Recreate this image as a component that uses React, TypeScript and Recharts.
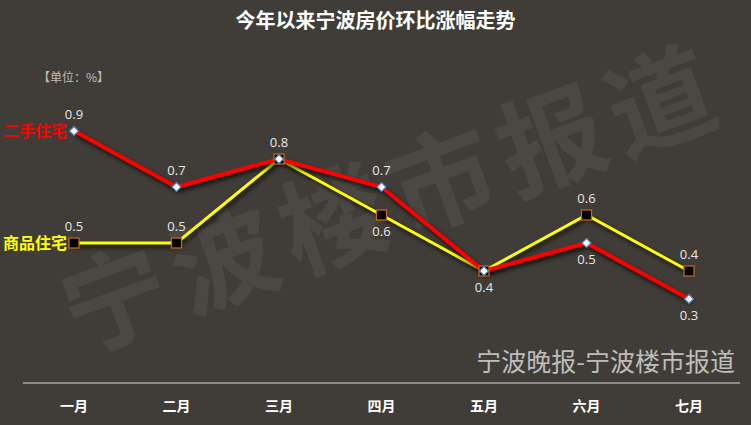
import React from 'react';
import { LineChart, Line, XAxis, YAxis, LabelList } from 'recharts';

const months = ['一月', '二月', '三月', '四月', '五月', '六月', '七月'];
const secondHand = [0.9, 0.7, 0.8, 0.7, 0.4, 0.5, 0.3];
const newHomes = [0.5, 0.5, 0.8, 0.6, 0.4, 0.6, 0.4];

// where each value label goes (null = hidden, shared with the other line)
const secondHandLabelPos = ['top', 'top', 'top', 'top', null, 'bottom', 'bottom'];
const newHomesLabelPos = ['top', 'top', null, 'bottom', 'bottom', 'top', 'top'];

const data = months.map((m, i) => ({ month: m, sh: secondHand[i], nh: newHomes[i] }));

const BG = '#403d38';
const NUM_FONT = '"Open Sans", "DejaVu Sans", sans-serif';
const CJK_FONT = '"Noto Sans CJK SC", sans-serif';

const DiamondDot = (props: any) => {
  const { cx, cy } = props;
  if (cx == null || cy == null) return null;
  const r = 4.5;
  return (
    <polygon
      points={`${cx},${cy - r} ${cx + r},${cy} ${cx},${cy + r} ${cx - r},${cy}`}
      fill="#ffffff"
      stroke="#4f81bd"
      strokeWidth={1.2}
    />
  );
};

const SquareDot = (props: any) => {
  const { cx, cy } = props;
  if (cx == null || cy == null) return null;
  return <rect x={cx - 5} y={cy - 5} width={10} height={10} fill="#000000" stroke="#c0661e" strokeWidth={1.3} />;
};

const makeValueLabel = (positions: (string | null)[]) => (props: any) => {
  const { x, y, value, index } = props;
  const pos = positions[index];
  if (!pos) return null;
  const dy = pos === 'top' ? -12 : 21;
  return (
    <text x={x} y={y + dy} textAnchor="middle" fill="#e6e6e6" fontSize={13} fontFamily={NUM_FONT}>
      {value}
    </text>
  );
};

const makeNameLabel = (name: string, color: string) => (props: any) => {
  const { x, y, index } = props;
  if (index !== 0) return null;
  return (
    <text x={x - 7} y={y + 6} textAnchor="end" fill={color} fontSize={16} fontWeight="bold" fontFamily={CJK_FONT}>
      {name}
    </text>
  );
};

export default function App() {
  return (
    <div style={{ position: 'absolute', left: 0, top: 0, width: 751, height: 425, background: BG, overflow: 'hidden', fontFamily: CJK_FONT }}>
      <style>{`.shadowed path.recharts-line-curve { filter: drop-shadow(2px 3px 2px rgba(0,0,0,0.75)); }`}</style>
      <div
        style={{
          position: 'absolute', left: 390, top: 192, transform: 'translate(-50%, -50%) rotate(-20deg)',
          fontSize: 106, fontWeight: 'bold', color: 'rgba(255,255,255,0.06)', whiteSpace: 'nowrap', letterSpacing: 10,
        }}
      >
        宁波楼市报道
      </div>
      <div style={{ position: 'absolute', left: 0, width: 751, top: 5, textAlign: 'center', color: '#ffffff', fontSize: 20, fontWeight: 'bold' }}>
        今年以来宁波房价环比涨幅走势
      </div>
      <div style={{ position: 'absolute', left: 38, top: 68, color: '#bfbfbf', fontSize: 12 }}>【单位：%】</div>
      <div style={{ position: 'absolute', right: 16, top: 342, color: '#bdbdbd', fontSize: 25 }}>宁波晚报-宁波楼市报道</div>
      <div style={{ position: 'absolute', left: 0, top: 0 }}>
        <LineChart width={751} height={425} data={data} margin={{ top: 103, right: 11, bottom: 12, left: 23 }}>
          <XAxis
            dataKey="month"
            axisLine={{ stroke: '#a6a6a6', strokeWidth: 1.5 }}
            tickLine={false}
            tickMargin={12}
            height={30}
            padding={{ left: 51, right: 51 }}
            tick={{ fill: '#ffffff', fontSize: 14, fontWeight: 'bold', fontFamily: CJK_FONT }}
          />
          <YAxis hide domain={[0, 1]} />
          <Line
            className="shadowed"
            dataKey="nh"
            stroke="#ffff00"
            strokeWidth={3}
            dot={<SquareDot />}
            activeDot={false}
            isAnimationActive={false}
          >
            <LabelList dataKey="nh" content={makeValueLabel(newHomesLabelPos)} />
            <LabelList dataKey="nh" content={makeNameLabel('商品住宅', '#ffff00')} />
          </Line>
          <Line
            className="shadowed"
            dataKey="sh"
            stroke="#ff0000"
            strokeWidth={4}
            dot={<DiamondDot />}
            activeDot={false}
            isAnimationActive={false}
          >
            <LabelList dataKey="sh" content={makeValueLabel(secondHandLabelPos)} />
            <LabelList dataKey="sh" content={makeNameLabel('二手住宅', '#ff0000')} />
          </Line>
        </LineChart>
      </div>
    </div>
  );
}
